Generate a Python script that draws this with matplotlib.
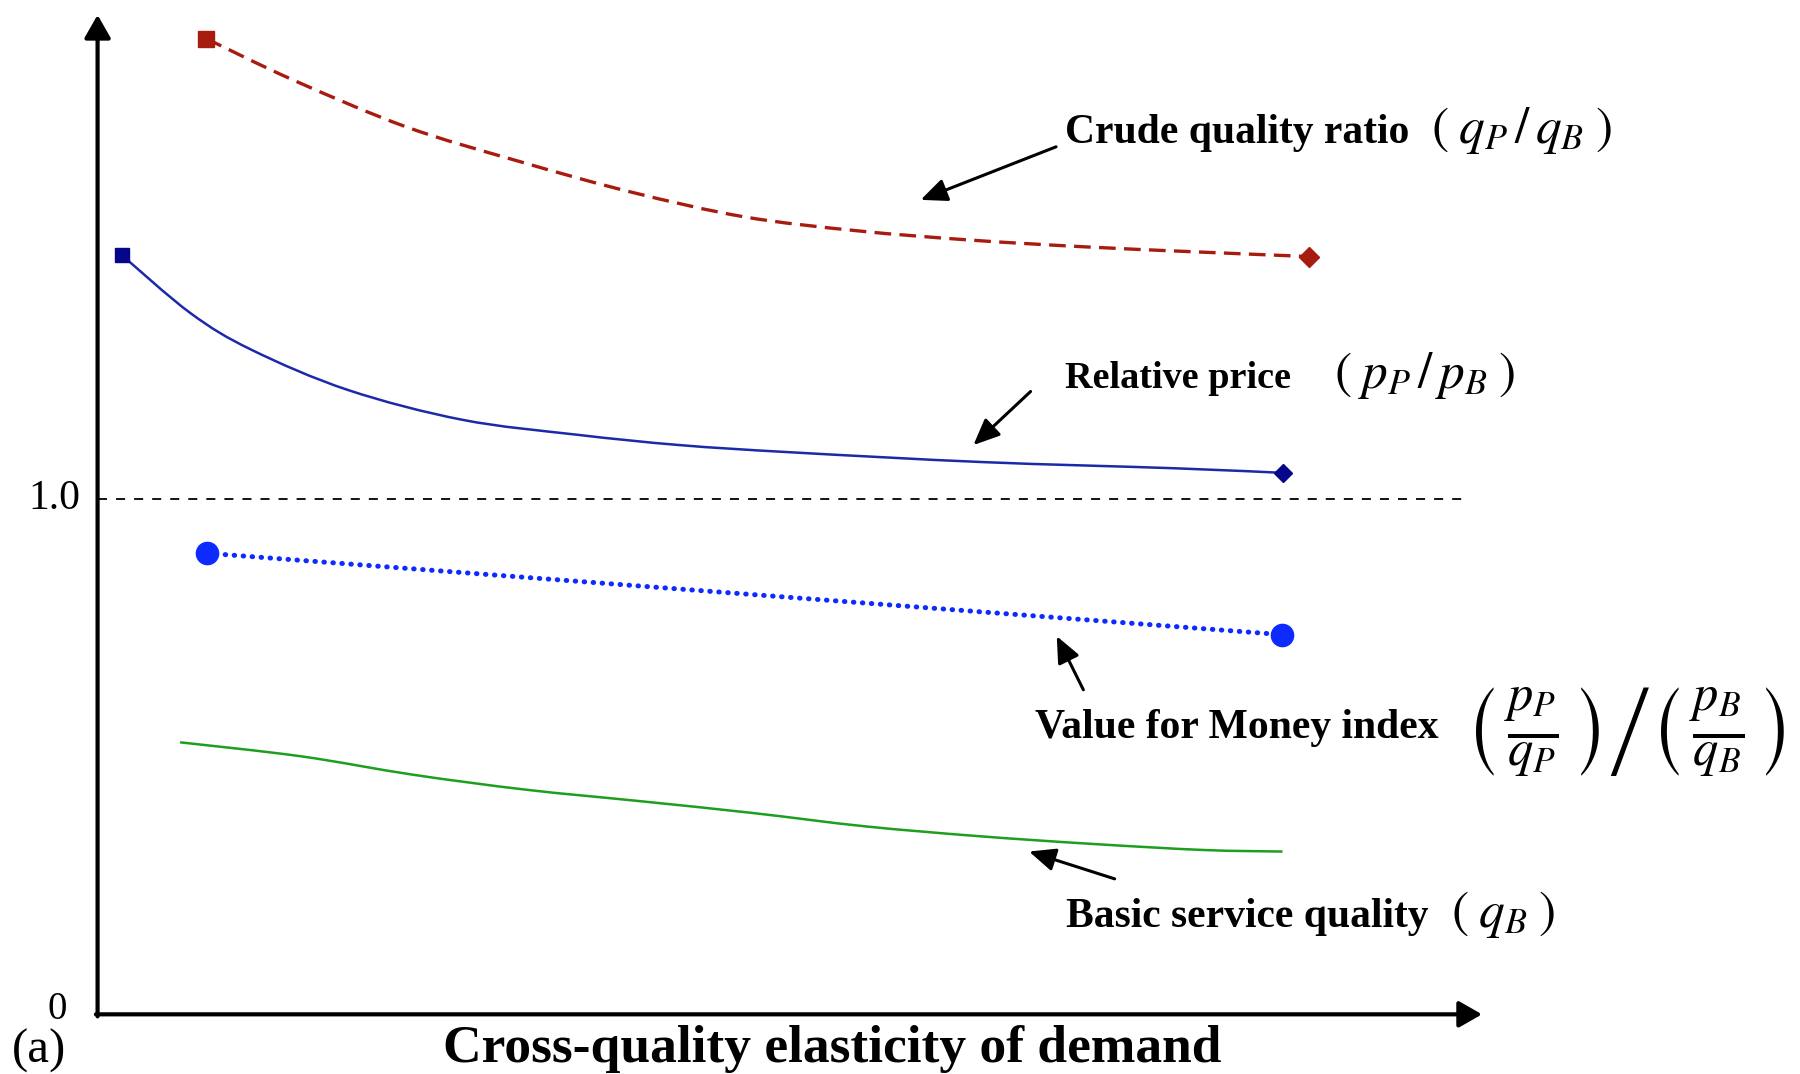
import matplotlib
matplotlib.use("Agg")
import matplotlib.pyplot as plt
from matplotlib.path import Path
from matplotlib.patches import PathPatch

plt.rcParams['mathtext.fontset'] = 'stix'
plt.rcParams['font.family'] = ['Liberation Serif', 'DejaVu Serif']

# ---- data ----
crude_x = [0.789, 1.417, 2.237, 3.056, 3.875, 4.695, 5.514, 6.333, 7.153, 7.975, 8.792]
crude_y = [1.894, 1.814, 1.723, 1.656, 1.596, 1.548, 1.521, 1.503, 1.490, 1.480, 1.471]

price_x = [0.175, 0.675, 1.117, 1.817, 2.65, 3.483, 4.225, 5.033, 6.425, 7.817, 8.608]
price_y = [1.474, 1.361, 1.290, 1.212, 1.154, 1.125, 1.105, 1.091, 1.072, 1.060, 1.051]

vfm_x = [0.796, 8.6]
vfm_y = [0.895, 0.737]

basic_x = [0.599, 1.473, 2.293, 3.112, 3.93, 4.75, 5.569, 6.389, 7.208, 8.028, 8.602]
basic_y = [0.528, 0.501, 0.465, 0.436, 0.414, 0.391, 0.365, 0.346, 0.331, 0.319, 0.316]

ref_level = 1.0
ytick_vals = [0, 1.0]
ytick_labels = ['0', '1.0']

label_crude = 'Crude quality ratio'
label_price = 'Relative price'
label_vfm = 'Value for Money index'
label_basic = 'Basic service quality'
xlabel = 'Cross-quality elasticity of demand'
panel = '(a)'


def smooth_path(xs, ys):
    """Bezier path through the data points (Catmull-Rom control handles)."""
    verts = [(xs[0], ys[0])]
    codes = [Path.MOVETO]
    n = len(xs)
    for i in range(n - 1):
        x0, y0 = (xs[i - 1], ys[i - 1]) if i > 0 else (xs[i], ys[i])
        x1, y1 = xs[i], ys[i]
        x2, y2 = xs[i + 1], ys[i + 1]
        x3, y3 = (xs[i + 2], ys[i + 2]) if i + 2 < n else (xs[i + 1], ys[i + 1])
        c1 = (x1 + (x2 - x0) / 6.0, y1 + (y2 - y0) / 6.0)
        c2 = (x2 - (x3 - x1) / 6.0, y2 - (y3 - y1) / 6.0)
        verts += [c1, c2, (x2, y2)]
        codes += [Path.CURVE4] * 3
    return Path(verts, codes)


# ---- figure ----
fig = plt.figure(figsize=(18, 10.74), dpi=100)
ax = fig.add_axes([85/1568, 52/936, 1200/1568, 871/936])
ax.set_xlim(0, 10)
ax.set_ylim(0, 1.94)
ax.axis('off')

red = '#A81C10'
blue_line = '#1C2AA8'
blue_mark = '#06068A'
vfm_col = '#0D2BFF'
green = '#1E9E1E'

# reference dashed line at 1.0
ax.plot([0, 9.96], [ref_level, ref_level], color='black', lw=1.3,
        ls=(0, (5, 5)), clip_on=False)

# crude quality ratio
ax.add_patch(PathPatch(smooth_path(crude_x, crude_y), fill=False, edgecolor=red,
                       lw=2.4, ls=(0, (5, 2.5)), clip_on=False))
ax.plot(crude_x[0], crude_y[0], marker='s', ms=12, color=red, clip_on=False)
ax.plot(crude_x[-1], crude_y[-1], marker='D', ms=10, color=red, clip_on=False)

# relative price
ax.add_patch(PathPatch(smooth_path(price_x, price_y), fill=False,
                       edgecolor=blue_line, lw=1.8, clip_on=False))
ax.plot(price_x[0], price_y[0], marker='s', ms=10, color=blue_mark, clip_on=False)
ax.plot(price_x[-1], price_y[-1], marker='D', ms=9, color=blue_mark, clip_on=False)

# value for money
ax.plot(vfm_x, vfm_y, color=vfm_col, lw=3.6, ls=(0, (0.1, 1.7)),
        dash_capstyle='round', clip_on=False)
ax.plot(vfm_x, vfm_y, ls='none', marker='o', ms=16, color=vfm_col, clip_on=False)

# basic service quality
ax.add_patch(PathPatch(smooth_path(basic_x, basic_y), fill=False,
                       edgecolor=green, lw=1.8, clip_on=False))

# axes arrows
ax_arrow = dict(arrowstyle='-|>,head_length=0.7,head_width=0.4',
                color='black', lw=3, mutation_scale=20, shrinkA=0, shrinkB=0)
ax.annotate('', xy=(0, 1.94), xytext=(0, -0.004), arrowprops=ax_arrow,
            annotation_clip=False)
ax.annotate('', xy=(10.05, 0), xytext=(-0.012, 0), arrowprops=ax_arrow,
            annotation_clip=False)

# tick labels
ax.text(-0.125, ytick_vals[1], ytick_labels[1], ha='right', va='center', fontsize=30)
ax.text(-0.29, ytick_vals[0] + 0.009, ytick_labels[0], ha='center', va='center',
        fontsize=28)

# annotation arrows
ptr = dict(arrowstyle='-|>,head_length=0.8,head_width=0.35', color='black',
           lw=2.2, mutation_scale=20, shrinkA=0, shrinkB=0)
ax.annotate('', xy=(5.975, 1.581), xytext=(6.958, 1.684), arrowprops=ptr)
ax.annotate('', xy=(6.358, 1.105), xytext=(6.773, 1.209), arrowprops=ptr)
ax.annotate('', xy=(6.963, 0.734), xytext=(7.156, 0.630), arrowprops=ptr)
ax.annotate('', xy=(6.762, 0.316), xytext=(7.383, 0.263), arrowprops=ptr)

# labels
lab = dict(fontsize=30, fontweight='bold', va='baseline', ha='left')
mth = dict(fontsize=37, va='baseline', ha='left')
ax.text(7.025, 1.691, label_crude, **lab)
ax.text(9.683, 1.691, r'$(\;q_P\,/\,q_B\;)$', **mth)
ax.text(7.025, 1.216, label_price, fontsize=27.5, fontweight='bold',
        va='baseline', ha='left')
ax.text(8.975, 1.216, r'$(\;p_P\,/\,p_B\;)$', **mth)
ax.text(6.805, 0.537, label_vfm, **lab)
ax.text(9.925, 0.547,
        r'$\left(\,\frac{p_P}{q_P}\,\right)\left/\left(\,\frac{p_B}{q_B}\,\right)\right.$',
        fontsize=52, va='center', ha='left')
ax.text(7.033, 0.169, label_basic, **lab)
ax.text(9.825, 0.169, r'$(\;q_B\;)$', **mth)

# x label and panel letter
ax.text(-0.625, -0.093, panel, ha='left', va='baseline', fontsize=35)
ax.text(5.333, -0.092, xlabel, ha='center', va='baseline', fontsize=38.5,
        fontweight='bold')

fig.savefig('out.png', dpi=100)
